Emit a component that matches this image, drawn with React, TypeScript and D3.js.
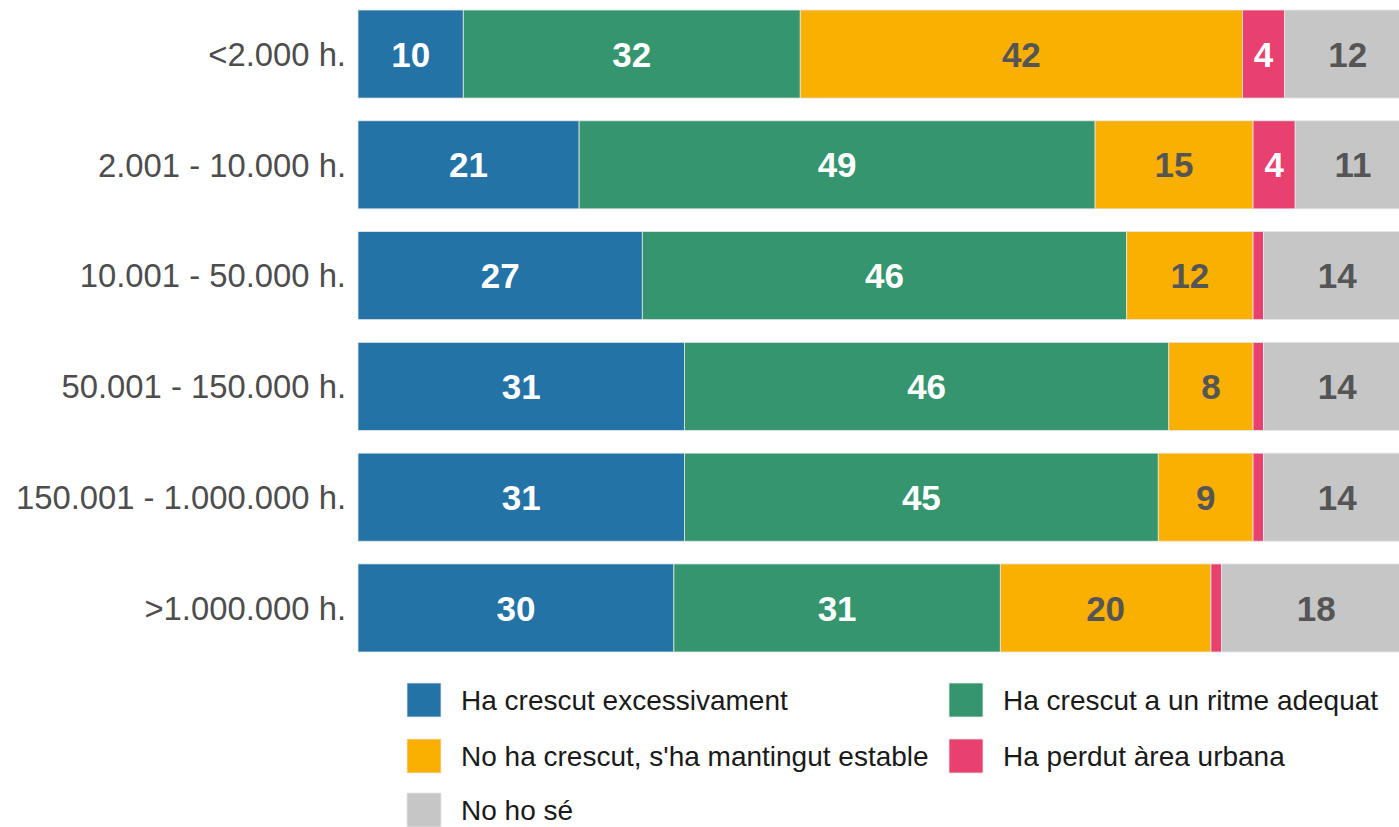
import React from "react";
import * as d3 from "d3";

const categories = [
  "<2.000 h.",
  "2.001 - 10.000 h.",
  "10.001 - 50.000 h.",
  "50.001 - 150.000 h.",
  "150.001 - 1.000.000 h.",
  ">1.000.000 h.",
];

const seriesNames = [
  "Ha crescut excessivament",
  "Ha crescut a un ritme adequat",
  "No ha crescut, s'ha mantingut estable",
  "Ha perdut àrea urbana",
  "No ho sé",
];

const excessiu = [10, 21, 27, 31, 31, 30];
const adequat = [32, 49, 46, 46, 45, 31];
const estable = [42, 15, 12, 8, 9, 20];
const perdut = [4, 4, 1, 1, 1, 1];
const noSe = [12, 11, 14, 14, 14, 18];

const colors = ["#2473a6", "#34956e", "#fab000", "#e8406f", "#c6c6c6"];
const labelColors = ["#ffffff", "#ffffff", "#555555", "#ffffff", "#555555"];

const seriesValues = [excessiu, adequat, estable, perdut, noSe];

export default function App() {
  const W = 1399;
  const H = 827;
  const x = d3.scaleLinear().domain([0, 100]).range([358, 1411]);
  const y = d3
    .scaleBand<string>()
    .domain(categories)
    .range([10, 652])
    .paddingInner(0.205)
    .paddingOuter(0);

  const rows = categories.map((c, i) => {
    const obj: any = { cat: c };
    seriesValues.forEach((s, k) => (obj["s" + k] = s[i]));
    return obj;
  });
  const stack = d3.stack<any>().keys(seriesValues.map((_, k) => "s" + k));
  const stacked = stack(rows);

  const legendPos = [
    { x: 407, y: 683 },
    { x: 949, y: 683 },
    { x: 407, y: 739 },
    { x: 949, y: 739 },
    { x: 407, y: 793 },
  ];

  return (
    <svg
      width={W}
      height={H}
      style={{ position: "absolute", left: 0, top: 0, fontFamily: "'Liberation Sans', Arial, sans-serif" }}
    >
      <rect x={0} y={0} width={W} height={H} fill="#ffffff" />
      {stacked.map((layer, k) => (
        <g key={k}>
          {layer.map((d, i) => (
            <rect
              key={i}
              x={x(d[0])}
              y={y(categories[i])}
              width={x(d[1]) - x(d[0])}
              height={y.bandwidth()}
              fill={colors[k]}
              stroke="#e6e6e6"
              strokeWidth={0.8}
            />
          ))}
          {layer.map((d, i) =>
            d[1] - d[0] >= 2 ? (
              <text
                key={"t" + i}
                x={(x(d[0]) + x(d[1])) / 2}
                y={(y(categories[i]) as number) + y.bandwidth() / 2}
                dy="0.36em"
                textAnchor="middle"
                fontWeight="bold"
                fontSize={35}
                fill={labelColors[k]}
              >
                {d[1] - d[0]}
              </text>
            ) : null
          )}
        </g>
      ))}
      {categories.map((c) => (
        <text
          key={c}
          x={346}
          y={(y(c) as number) + y.bandwidth() / 2}
          dy="0.36em"
          textAnchor="end"
          fontSize={32.8}
          fill="#4d4d4d"
        >
          {c}
        </text>
      ))}
      {seriesNames.map((n, k) => (
        <g key={n}>
          <rect
            x={legendPos[k].x}
            y={legendPos[k].y}
            width={34}
            height={34}
            fill={colors[k]}
            stroke="#e6e6e6"
            strokeWidth={0.8}
          />
          <text
            x={legendPos[k].x + 54}
            y={legendPos[k].y + 17}
            dy="0.36em"
            fontSize={28}
            fill="#1a1a1a"
          >
            {n}
          </text>
        </g>
      ))}
    </svg>
  );
}
